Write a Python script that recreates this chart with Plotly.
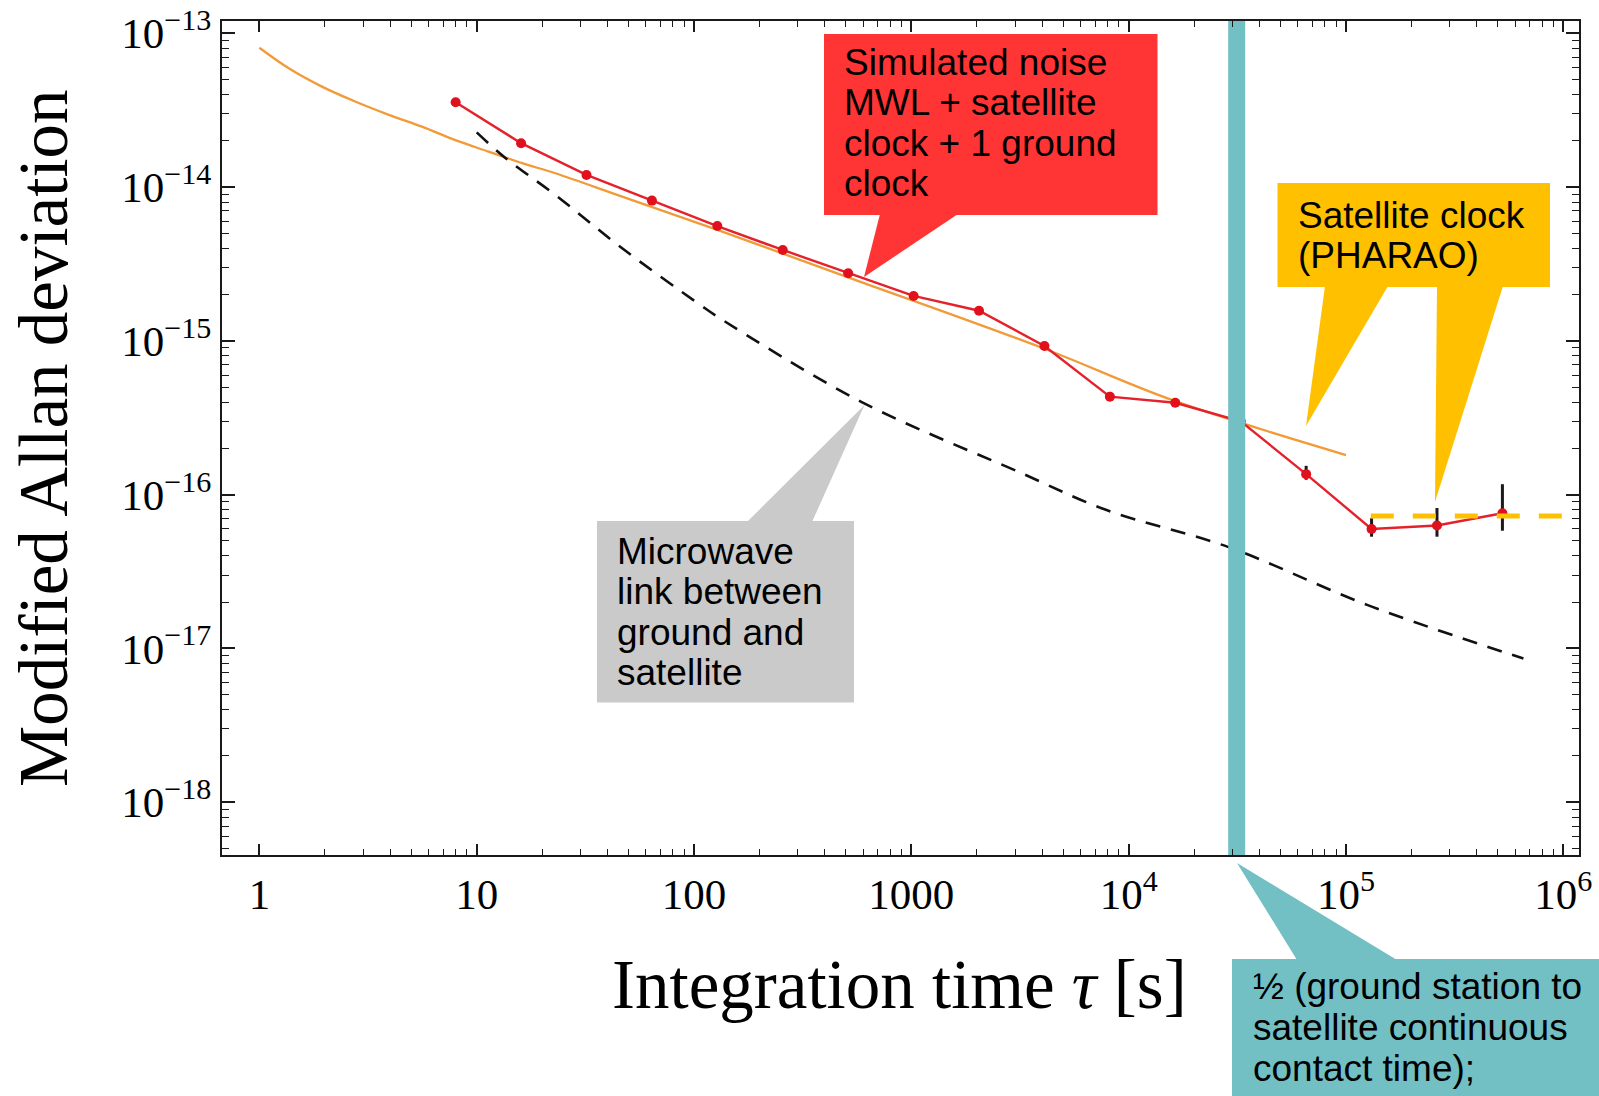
import plotly.graph_objects as go

# ---------------------------------------------------------------- data
# Simulated noise: MWL + satellite clock + 1 ground clock
sim_tau = [8, 16, 32, 64, 128, 256, 512, 1024, 2048, 4096, 8192, 16384,
           32768, 65536, 131072, 262144, 524288]
sim_adev = [3.56e-14, 1.93e-14, 1.20e-14, 8.17e-15, 5.58e-15, 3.90e-15,
            2.75e-15, 1.96e-15, 1.57e-15, 9.27e-16, 4.34e-16, 3.96e-16,
            3.00e-16, 1.36e-16, 5.98e-17, 6.30e-17, 7.57e-17]
# confidence interval (upper / lower) of the last four points
err_tau = [65536, 131072, 262144, 524288]
err_upper = [1.54e-16, 7.03e-17, 8.19e-17, 1.17e-16]
err_lower = [1.25e-16, 5.33e-17, 5.33e-17, 5.83e-17]

# Satellite clock (PHARAO)
clock_tau = [1.0, 1.365, 1.94, 2.76, 3.94, 5.6, 7.98, 11.35, 16.2, 23,
             46.7, 135, 504, 4040, 15800, 1.0e5]
clock_adev = [8.05e-14, 5.92e-14, 4.50e-14, 3.60e-14, 2.95e-14, 2.47e-14,
              2.02e-14, 1.70e-14, 1.43e-14, 1.23e-14, 8.67e-15, 5.13e-15,
              2.61e-15, 8.95e-16, 4.13e-16, 1.81e-16]
clock_floor = 7.26e-17
clock_floor_tau = [1.3e5, 2.0e6]

# Microwave link between ground and satellite
mwl_tau = [10, 13.6, 23, 46.7, 107, 135, 585, 3213, 7800, 28800, 1.25e5, 6.55e5]
mwl_adev = [2.27e-14, 1.54e-14, 8.9e-15, 4.0e-15, 1.71e-15, 1.37e-15,
            4.03e-16, 1.38e-16, 8.0e-17, 4.56e-17, 1.92e-17, 8.6e-18]

# half of the ground-station / satellite continuous contact time
contact_tau = 3.14e4

x_tickvals = [1, 10, 100, 1000, 1e4, 1e5, 1e6]
x_ticktext = ["1", "10", "100", "1000", "10<sup>4</sup>", "10<sup>5</sup>", "10<sup>6</sup>"]
y_tickvals = [1e-13, 1e-14, 1e-15, 1e-16, 1e-17, 1e-18]
y_ticktext = ["10<sup>\u221213</sup>", "10<sup>\u221214</sup>", "10<sup>\u221215</sup>",
              "10<sup>\u221216</sup>", "10<sup>\u221217</sup>", "10<sup>\u221218</sup>"]

# ---------------------------------------------------------------- geometry
W, H = 1599, 1096
PL, PR, PT, PB = 222, 1579, 21, 855


def fx(x):
    return (x - PL) / (PR - PL)


def fy(y):
    return (PB - y) / (PB - PT)


err_plus = []
err_minus = []
for t, v in zip(sim_tau, sim_adev):
    if t in err_tau:
        i = err_tau.index(t)
        err_plus.append(err_upper[i] - v)
        err_minus.append(v - err_lower[i])
    else:
        err_plus.append(0)
        err_minus.append(0)

fig = go.Figure()

fig.add_trace(go.Scatter(
    x=clock_tau, y=clock_adev, mode="lines",
    line=dict(color="#F29A38", width=2.3, shape="spline", smoothing=1.0),
    hoverinfo="skip"))

fig.add_trace(go.Scatter(
    x=mwl_tau, y=mwl_adev, mode="lines",
    line=dict(color="#111111", width=2.6, dash="15px,11px", shape="spline", smoothing=1.0),
    hoverinfo="skip"))

fig.add_trace(go.Scatter(
    x=sim_tau, y=sim_adev, mode="lines+markers",
    line=dict(color="#E3222C", width=2.4),
    marker=dict(color="#E0101C", size=10),
    error_y=dict(type="data", symmetric=False, array=err_plus,
                 arrayminus=err_minus, color="#1A1A1A", thickness=3, width=0)))

fig.add_trace(go.Scatter(
    x=clock_floor_tau, y=[clock_floor, clock_floor], mode="lines",
    line=dict(color="#FFC000", width=5, dash="23px,19px"), hoverinfo="skip"))

fig.add_trace(go.Scatter(
    x=[contact_tau, contact_tau], y=[1e-20, 1e-11], mode="lines",
    line=dict(color="#72BFC4", width=17), hoverinfo="skip"))

# ---------------------------------------------------------------- callouts
shapes = []
annotations = []
TEXT_FONT = dict(family="Liberation Sans, Arial, sans-serif", size=37, color="black")


def callout(box, tail, color, lines, text_x, first_y, step=40.5):
    x0, y0, x1, y1 = box
    shapes.append(dict(type="rect", xref="paper", yref="paper",
                       x0=fx(x0), x1=fx(x1), y0=fy(y0), y1=fy(y1),
                       fillcolor=color, line=dict(width=0), layer="above"))
    path = "M " + " L ".join(f"{fx(a):.5f},{fy(b):.5f}" for a, b in tail) + " Z"
    shapes.append(dict(type="path", xref="paper", yref="paper", path=path,
                       fillcolor=color, line=dict(width=0), layer="above"))
    for k, s in enumerate(lines):
        annotations.append(dict(xref="paper", yref="paper", x=fx(text_x),
                                y=fy(first_y + k * step), text=s, showarrow=False,
                                xanchor="left", yanchor="middle", font=TEXT_FONT))


callout((824, 34, 1157.5, 215), [(880, 214), (864, 277), (958, 214)], "#FF3535",
        ["Simulated noise", "MWL + satellite", "clock + 1 ground", "clock"],
        842, 62)
callout((1277.5, 183, 1550, 287), [(1325, 286), (1306, 426), (1388, 286)], "#FFC000",
        ["Satellite clock", "(PHARAO)"], 1296, 215)
shapes.append(dict(type="path", xref="paper", yref="paper",
                   path="M " + " L ".join(f"{fx(a):.5f},{fy(b):.5f}"
                                          for a, b in [(1437, 286), (1435, 502), (1503, 286)]) + " Z",
                   fillcolor="#FFC000", line=dict(width=0), layer="above"))
callout((597, 521, 854, 702.5), [(747, 522), (864.5, 405), (812, 522)], "#CACACA",
        ["Microwave", "link between", "ground and", "satellite"], 615, 551)
callout((1232, 959, 1610, 1110), [(1297, 960), (1237, 863), (1397, 960)], "#72BFC4",
        ["\u00bd (ground station to", "satellite continuous", "contact time);"], 1251, 987)

# axis titles
SERIF = "Liberation Serif, Times New Roman, serif"
annotations.append(dict(xref="paper", yref="paper", x=fx(899), y=fy(985),
                        text="Integration time <i>\u03c4</i> [s]", showarrow=False,
                        xanchor="center", yanchor="middle",
                        font=dict(family=SERIF, size=69, color="black")))
annotations.append(dict(xref="paper", yref="paper", x=fx(44), y=fy(438),
                        text="Modified Allan deviation", showarrow=False, textangle=-90,
                        xanchor="center", yanchor="middle",
                        font=dict(family=SERIF, size=69, color="black")))

# minor tick positions (2..9 within each decade)
x_minor = [m * 10 ** d for d in range(0, 6) for m in range(2, 10)]
y_minor = [m * 10.0 ** d for d in range(-19, -12) for m in range(2, 10)]

axis_common = dict(type="log", showgrid=False, zeroline=False, showline=True,
                   linecolor="#1A1A1A", linewidth=2, mirror="ticks",
                   ticks="inside", tickcolor="#1A1A1A", tickwidth=1.6,
                   tickfont=dict(family=SERIF, size=43, color="black"))

fig.update_layout(
    width=W, height=H,
    margin=dict(l=PL, r=W - PR, t=PT, b=H - PB, autoexpand=False),
    paper_bgcolor="white", plot_bgcolor="white",
    showlegend=False,
    xaxis=dict(**axis_common, range=[-0.172, 6.072], tickmode="array",
               tickvals=x_tickvals, ticktext=x_ticktext, ticklen=11,
               minor=dict(tickmode="array", tickvals=x_minor, ticks="inside",
                          ticklen=6, tickcolor="#1A1A1A", tickwidth=1.3, showgrid=False)),
    yaxis=dict(**axis_common, range=[-18.343, -12.92], tickmode="array",
               tickvals=y_tickvals, ticktext=y_ticktext, ticklen=13,
               minor=dict(tickmode="array", tickvals=y_minor, ticks="inside",
                          ticklen=7, tickcolor="#1A1A1A", tickwidth=1.3, showgrid=False)),
    shapes=shapes,
    annotations=annotations,
)

fig.write_html("out.html")
